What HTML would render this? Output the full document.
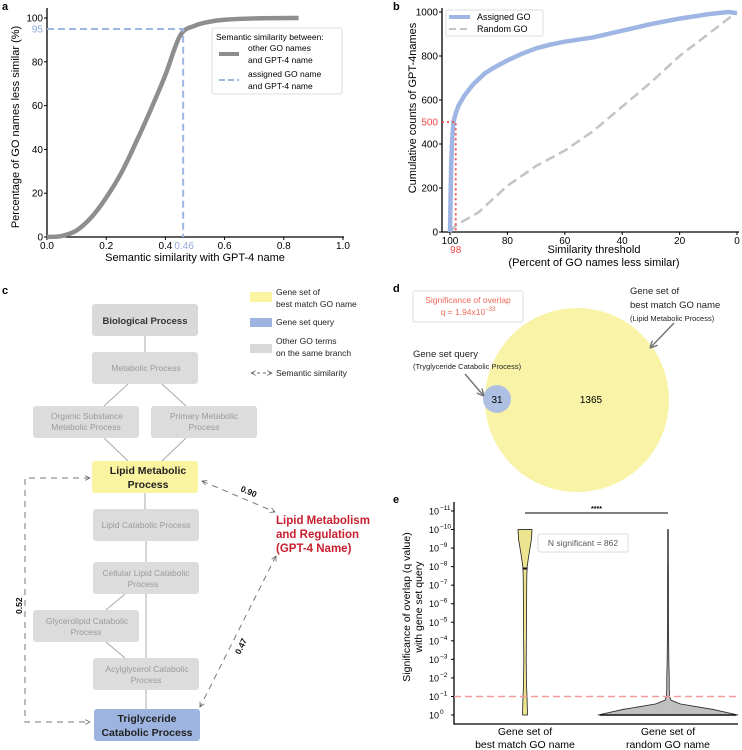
<!DOCTYPE html>
<html><head><meta charset="utf-8">
<style>
html,body{margin:0;padding:0;background:#fff;}
svg{display:block;font-family:"Liberation Sans",Arial,sans-serif;}
</style></head>
<body>
<svg id="fig" width="742" height="750" viewBox="0 0 742 750" xmlns="http://www.w3.org/2000/svg">
<defs>
<marker id="ah" viewBox="0 0 10 10" refX="9" refY="5" markerWidth="6" markerHeight="6" orient="auto-start-reverse"><path d="M1,1 L9,5 L1,9" fill="none" stroke="#666" stroke-width="1.3"/></marker>
<marker id="ah2" viewBox="0 0 10 10" refX="8" refY="5" markerWidth="5" markerHeight="5" orient="auto"><path d="M0,0 L10,5 L0,10" fill="none" stroke="#777" stroke-width="2"/></marker>
</defs>
<g id="pa"></g>
<g id="pb"></g>
<g id="pc">
  <text x="2" y="294" font-size="11" font-weight="bold">c</text>
  <g stroke="#aaa" stroke-width="1">
    <line x1="145" y1="336" x2="145" y2="352"/>
    <line x1="128" y1="384" x2="104" y2="406"/>
    <line x1="162" y1="384" x2="186" y2="406"/>
    <line x1="104" y1="438" x2="128" y2="461"/>
    <line x1="186" y1="438" x2="162" y2="461"/>
    <line x1="145" y1="493" x2="145" y2="509"/>
    <line x1="146" y1="541" x2="146" y2="562"/>
    <line x1="146" y1="594" x2="146" y2="658"/>
    <line x1="125" y1="594" x2="106" y2="610"/>
    <line x1="106" y1="642" x2="125" y2="658"/>
    <line x1="146" y1="690" x2="146" y2="709"/>
  </g>
  <g font-size="8.5" fill="#9a9a9a" text-anchor="middle">
    <rect x="92" y="304" width="106" height="32" rx="3" fill="#d9d9d9"/>
    <text x="145" y="324" fill="#333" font-weight="bold" font-size="9.5">Biological Process</text>
    <rect x="92" y="352" width="106" height="32" rx="3" fill="#dcdcdc"/>
    <text x="146" y="371">Metabolic Process</text>
    <rect x="33" y="406" width="106" height="32" rx="3" fill="#dcdcdc"/>
    <text x="87" y="419">Organic Substance</text><text x="86" y="430">Metabolic Process</text>
    <rect x="151" y="406" width="106" height="32" rx="3" fill="#dcdcdc"/>
    <text x="204" y="419">Primary Metabolic</text><text x="204" y="430">Process</text>
    <rect x="92" y="461" width="106" height="32" rx="3" fill="#faf3a0"/>
    <text x="148" y="474" fill="#222" font-weight="bold" font-size="10.5">Lipid Metabolic</text>
    <text x="148" y="488" fill="#222" font-weight="bold" font-size="10.5">Process</text>
    <rect x="93" y="509" width="106" height="32" rx="3" fill="#dcdcdc"/>
    <text x="146" y="528">Lipid Catabolic Process</text>
    <rect x="93" y="562" width="106" height="32" rx="3" fill="#dcdcdc"/>
    <text x="146" y="576">Cellular Lipid Catabolic</text><text x="143" y="587">Process</text>
    <rect x="33" y="610" width="106" height="32" rx="3" fill="#dcdcdc"/>
    <text x="87" y="624">Glycerolipid Catabolic</text><text x="86" y="635">Process</text>
    <rect x="93" y="658" width="106" height="32" rx="3" fill="#dcdcdc"/>
    <text x="147" y="672">Acylglycerol Catabolic</text><text x="146" y="683">Process</text>
    <rect x="94" y="709" width="106" height="32" rx="3" fill="#9eb4e0"/>
    <text x="147" y="722" fill="#222" font-weight="bold" font-size="10.5">Triglyceride</text>
    <text x="147" y="736" fill="#222" font-weight="bold" font-size="10.5">Catabolic Process</text>
  </g>
  <g font-size="8.5" fill="#222">
    <rect x="250" y="292" width="22" height="10" fill="#faf3a0"/>
    <text x="276" y="295">Gene set of</text><text x="276" y="307">best match GO name</text>
    <rect x="250" y="318" width="22" height="9" fill="#9eb4e0"/>
    <text x="276" y="325">Gene set query</text>
    <rect x="250" y="344" width="22" height="9" fill="#d9d9d9"/>
    <text x="276" y="344">Other GO terms</text><text x="276" y="356">on the same branch</text>
    <line x1="251" y1="373" x2="272" y2="373" stroke="#666" stroke-dasharray="3,3" marker-start="url(#ah)" marker-end="url(#ah)"/>
    <text x="276" y="376">Semantic similarity</text>
  </g>
  <g fill="#c8202f" font-size="11.5" font-weight="bold">
    <text x="276" y="524">Lipid Metabolism</text>
    <text x="276" y="538">and Regulation</text>
    <text x="276" y="552">(GPT-4 Name)</text>
  </g>
  <g stroke="#777" stroke-width="1" fill="none" stroke-dasharray="6,5">
    <line x1="202" y1="481" x2="275" y2="512" marker-start="url(#ah)" marker-end="url(#ah)"/>
    <line x1="276" y1="556" x2="200" y2="707" marker-start="url(#ah)" marker-end="url(#ah)"/>
    <polyline points="90,478 25,478 25,722 90,722" marker-start="url(#ah)" marker-end="url(#ah)"/>
  </g>
  <g font-size="8.5" font-weight="bold" fill="#111">
    <text transform="translate(240,491) rotate(23)">0.90</text>
    <text transform="translate(240,655) rotate(-64)">0.47</text>
    <text transform="translate(22,614) rotate(-90)">0.52</text>
  </g>
</g>
<g id="pd">
  <text x="393" y="292" font-size="11" font-weight="bold">d</text>
  <circle cx="577" cy="400" r="92" fill="#f8f3a6"/>
  <circle cx="497" cy="399" r="14" fill="#aec0e2"/>
  <text x="497" y="403" font-size="10" text-anchor="middle">31</text>
  <text x="591" y="403" font-size="10" text-anchor="middle">1365</text>
  <rect x="413" y="291" width="110" height="31" rx="2" fill="#fff" stroke="#ddd"/>
  <text x="468" y="303" font-size="8.5" fill="#f06a5a" text-anchor="middle">Significance of overlap</text>
  <text x="468" y="315" font-size="8.5" fill="#f06a5a" text-anchor="middle">q = 1.94x10<tspan font-size="6" dy="-4">−33</tspan></text>
  <g font-size="9.5" fill="#222">
    <text x="630" y="294">Gene set of</text>
    <text x="630" y="308">best match GO name</text>
    <text x="630" y="321" font-size="7.5">(Lipid Metabolic Process)</text>
    <text x="413" y="357">Gene set query</text>
    <text x="413" y="369" font-size="7.5">(Tryglyceride Catabolic Process)</text>
  </g>
  <line x1="674" y1="323" x2="651" y2="347" stroke="#777" stroke-width="1.5" marker-end="url(#ah2)"/>
  <line x1="465" y1="374" x2="483" y2="395" stroke="#777" stroke-width="1.5" marker-end="url(#ah2)"/>
</g>
<g id="pe"></g>
</svg>
<script>
// ---------- Panel a data ----------
const aX = [0,0.05,0.1,0.15,0.2,0.25,0.3,0.35,0.4,0.45,0.5,0.55,0.6,0.7,0.85];
const aY = [0,0.5,3,9,18,29,43,58,74,92,96.5,98.3,99.2,99.8,100];
const aXTicks = [0,0.2,0.4,0.6,0.8,1.0];
const aYTicks = [0,20,40,60,80,100];
const aAssignedX = 0.46, aAssignedY = 95;
// ---------- Panel b data ----------
const bThresh = [100,99.6,99.2,98.8,98,97,95,92,88,85,80,75,70,65,60,50,40,30,20,10,3,0];
const bAssigned = [0,300,430,500,540,575,620,670,720,745,780,810,835,852,865,885,915,945,970,990,1000,995];
const bRandThresh = [100,98,90,80,70,60,50,40,30,20,10,0];
const bRandom = [0,30,90,210,300,370,460,570,680,800,900,1000];
const bXTicks = [100,80,60,40,20,0];
const bYTicks = [0,200,400,600,800,1000];
// ---------- Panel e data ----------
const eExp = [0,0.3,0.6,0.8,1,1.5,2,3,5,7,7.5,8,8.5,9,9.5,10];
const eBestDensity = [2.5,2.4,2.2,2.1,2,1.6,1.4,1.2,1.5,1.7,1.8,2.2,3.5,5,6.5,7];
const eRandDensity = [70,45,12,3,1.5,1.2,1.2,0.8,0.5,0.4,0.4,0.35,0.3,0.3,0.3,0.3];
const eBestMedian = 7.9, eRandMedian = 0, eThreshold = 1;
const eYTicks = [0,1,2,3,4,5,6,7,8,9,10,11];

const NS = "http://www.w3.org/2000/svg";
function mk(parent, tag, attrs, text){
  const el = document.createElementNS(NS, tag);
  for (const k in attrs) el.setAttribute(k, attrs[k]);
  if (text !== undefined) el.textContent = text;
  parent.appendChild(el); return el;
}
function smoothPath(P){
  let d = `M${P[0][0]},${P[0][1]}`;
  for (let i=0;i<P.length-1;i++){
    const p0=P[Math.max(0,i-1)],p1=P[i],p2=P[i+1],p3=P[Math.min(P.length-1,i+2)];
    const c1x=p1[0]+(p2[0]-p0[0])/6,c1y=p1[1]+(p2[1]-p0[1])/6;
    const c2x=p2[0]-(p3[0]-p1[0])/6,c2y=p2[1]-(p3[1]-p1[1])/6;
    d+=` C${c1x},${c1y} ${c2x},${c2y} ${p2[0]},${p2[1]}`;
  }
  return d;
}
// ===== Panel A =====
(function(){
  const g = document.getElementById('pa');
  const x0=47,x1=343,y0=237,y1=18;
  const sx = v => x0 + v*(x1-x0), sy = v => y0 - v/100*(y0-y1);
  let t = mk(g,'text',{x:2,y:10,'font-size':11,'font-weight':'bold'},'a');
   
  let ax = mk(g,'path',{d:`M${x0},8 V${y0} H${x1+1}`,fill:'none',stroke:'#000','stroke-width':1.3});
   
  aXTicks.forEach(v=>{
    mk(g,'line',{x1:sx(v),x2:sx(v),y1:y0,y2:y0+3,stroke:'#000'});
    const tt = mk(g,'text',{x:sx(v),y:y0+12,'font-size':10,'text-anchor':'middle'},v.toFixed(1));
     
  });
  aYTicks.forEach(v=>{
    mk(g,'line',{x1:x0-3,x2:x0,y1:sy(v),y2:sy(v),stroke:'#000'});
    const tt = mk(g,'text',{x:x0-4,y:sy(v)+3.5,'font-size':10,'text-anchor':'end'},v);
     
  });
  const P = aX.map((v,i)=>[sx(v),sy(aY[i])]);
  const c = mk(g,'path',{d:smoothPath(P),fill:'none',stroke:'#8e8e8e','stroke-width':4.5,'stroke-linejoin':'round'});
   
  const d = mk(g,'path',{d:`M${x0},${sy(aAssignedY)} H${sx(aAssignedX)} V${y0}`,fill:'none',stroke:'#9fb5e3','stroke-width':2,'stroke-dasharray':'7,4'});
   
  mk(g,'text',{x:x0-4,y:sy(aAssignedY)+3.5,'font-size':10,'text-anchor':'end',fill:'#8fa9d8'},aAssignedY);
  mk(g,'text',{x:sx(aAssignedX)+1,y:y0+12,'font-size':10,'text-anchor':'middle',fill:'#8fa9d8'},aAssignedX.toFixed(2));
  let yl = mk(g,'text',{transform:`translate(19,127) rotate(-90)`,'font-size':11,'text-anchor':'middle'},'Percentage of GO names less similar (%)');
   
  let xl = mk(g,'text',{x:195,y:261,'font-size':11,'text-anchor':'middle'},'Semantic similarity with GPT-4 name');
   
  const lg = mk(g,'g',{});
   
  mk(lg,'rect',{x:212,y:28,width:130,height:66,rx:2,fill:'#fff',stroke:'#ddd'});
  mk(lg,'text',{x:216,y:40,'font-size':8.5},'Semantic similarity between:');
  mk(lg,'line',{x1:219,x2:239,y1:54,y2:54,stroke:'#8e8e8e','stroke-width':4});
  mk(lg,'text',{x:248,y:51,'font-size':8.5},'other GO names');
  mk(lg,'text',{x:248,y:63,'font-size':8.5},'and GPT-4 name');
  mk(lg,'line',{x1:219,x2:239,y1:80,y2:80,stroke:'#9fb5e3','stroke-width':2,'stroke-dasharray':'6,3'});
  mk(lg,'text',{x:248,y:77,'font-size':8.5},'assigned GO name');
  mk(lg,'text',{x:248,y:89,'font-size':8.5},'and GPT-4 name');
})();
// ===== Panel B =====
(function(){
  const g = document.getElementById('pb');
  const x0=442,xa=450,xb=737,y0=232,y1=12;
  const sx = v => xa + (100-v)/100*(xb-xa), sy = v => y0 - v/1000*(y0-y1);
  mk(g,'text',{x:393,y:10,'font-size':11,'font-weight':'bold'},'b');
  let ax = mk(g,'path',{d:`M${x0},8 V${y0} H${xb+2}`,fill:'none',stroke:'#000','stroke-width':1.3});
   
  bXTicks.forEach(v=>{
    mk(g,'line',{x1:sx(v),x2:sx(v),y1:y0,y2:y0+3,stroke:'#000'});
    const tt=mk(g,'text',{x:sx(v),y:y0+12,'font-size':10,'text-anchor':'middle'},v);
     
  });
  bYTicks.forEach(v=>{
    mk(g,'line',{x1:x0-3,x2:x0,y1:sy(v),y2:sy(v),stroke:'#000'});
    const tt=mk(g,'text',{x:x0-4,y:sy(v)+3.5,'font-size':10,'text-anchor':'end'},v);
     
  });
  const r = mk(g,'polyline',{points:bRandThresh.map((v,i)=>sx(v)+','+sy(bRandom[i])).join(' '),fill:'none',stroke:'#c4c4c4','stroke-width':2.5,'stroke-dasharray':'10,5'});
   
  const a = mk(g,'polyline',{points:bThresh.map((v,i)=>sx(v)+','+sy(bAssigned[i])).join(' '),fill:'none',stroke:'#9fb5e3','stroke-width':4.5,'stroke-linejoin':'round'});
   
  const d = mk(g,'path',{d:`M${x0},${sy(500)} H${sx(98)} V${y0}`,fill:'none',stroke:'#f04a4a','stroke-width':1.8,'stroke-dasharray':'2,3'});
   
  mk(g,'text',{x:x0-4,y:sy(500)+3.5,'font-size':10,'text-anchor':'end',fill:'#f04a4a'},'500');
  mk(g,'text',{x:sx(98),y:y0+21,'font-size':10,'text-anchor':'middle',fill:'#f04a4a'},'98');
  let yl=mk(g,'text',{transform:`translate(416,108) rotate(-90)`,'font-size':11,'text-anchor':'middle'},'Cumulative counts of GPT-4names');
   
  let xl=mk(g,'text',{x:594,y:253,'font-size':11,'text-anchor':'middle'},'Similarity threshold');
   
  mk(g,'text',{x:594,y:266,'font-size':11,'text-anchor':'middle'},'(Percent of GO names less similar)');
  const lg = mk(g,'g',{});
   
  mk(lg,'rect',{x:446,y:10,width:97,height:26,rx:2,fill:'#fff',stroke:'#ddd'});
  mk(lg,'line',{x1:449,x2:470,y1:17,y2:17,stroke:'#9fb5e3','stroke-width':4});
  mk(lg,'text',{x:477,y:20,'font-size':9},'Assigned GO');
  mk(lg,'line',{x1:449,x2:470,y1:29,y2:29,stroke:'#c4c4c4','stroke-width':2,'stroke-dasharray':'7,4'});
  mk(lg,'text',{x:477,y:32,'font-size':9},'Random GO');
})();
// ===== Panel E =====
(function(){
  const g = document.getElementById('pe');
  const x0=454,xr=738,yb=724,y0=715,dec=(715-511)/11;
  const sy = e => y0 - e*dec;
  const c1=525,c2=668;
  mk(g,'text',{x:393,y:503,'font-size':11,'font-weight':'bold'},'e');
  let ax = mk(g,'path',{d:`M${x0},502 V${yb} H${xr}`,fill:'none',stroke:'#000','stroke-width':1.3});
   
  eYTicks.forEach(e=>{
    mk(g,'line',{x1:x0-3,x2:x0,y1:sy(e),y2:sy(e),stroke:'#000'});
    const tt=mk(g,'text',{x:x0-15,y:sy(e)+3.5,'font-size':9,'text-anchor':'end'},'10');
     
    mk(g,'text',{x:x0-14,y:sy(e)-1,'font-size':6.5},e===0?'0':'−'+e);
  });
  function violin(cx, dens, fill, name){
    const right = eExp.map((e,i)=>(cx+dens[i])+','+sy(e));
    const left = eExp.map((e,i)=>(cx-dens[i])+','+sy(e)).reverse();
    const p = mk(g,'polygon',{points:right.concat(left).join(' '),fill:fill,stroke:'#222','stroke-width':0.8});
     
  }
  violin(c1,eBestDensity,'#ede48f','violin-best-match');
  violin(c2,eRandDensity,'#c0c0c0','violin-random');
  mk(g,'line',{x1:c1-2.5,x2:c1+2.5,y1:sy(eBestMedian),y2:sy(eBestMedian),stroke:'#111','stroke-width':2});
  mk(g,'line',{x1:c2-68,x2:c2+68,y1:sy(eRandMedian),y2:sy(eRandMedian),stroke:'#111','stroke-width':1.5});
  const th = mk(g,'line',{x1:x0,x2:xr,y1:sy(eThreshold),y2:sy(eThreshold),stroke:'#f49a9a','stroke-width':1.5,'stroke-dasharray':'7,4'});
   
  const sb = mk(g,'line',{x1:c1,x2:c2,y1:513,y2:513,stroke:'#000','stroke-width':1});
   
  mk(g,'text',{x:(c1+c2)/2,y:511,'font-size':7,'text-anchor':'middle','font-weight':'bold'},'****');
  const nb = mk(g,'g',{});
   
  mk(nb,'rect',{x:538,y:534,width:90,height:18,rx:2,fill:'#fff',stroke:'#ddd'});
  mk(nb,'text',{x:583,y:546,'font-size':8.5,'text-anchor':'middle',fill:'#555'},'N significant = 862');
  let yl=mk(g,'text',{transform:`translate(410,607) rotate(-90)`,'font-size':10.5,'text-anchor':'middle'},'Significance of overlap (q value)');
   
  mk(g,'text',{transform:`translate(422,607) rotate(-90)`,'font-size':10.5,'text-anchor':'middle'},'with gene set query');
  const xl1 = mk(g,'text',{x:c1,y:735,'font-size':10.5,'text-anchor':'middle'},'Gene set of');
   
  mk(g,'text',{x:c1,y:748,'font-size':10.5,'text-anchor':'middle'},'best match GO name');
  const xl2 = mk(g,'text',{x:c2,y:735,'font-size':10.5,'text-anchor':'middle'},'Gene set of');
   
  mk(g,'text',{x:c2,y:748,'font-size':10.5,'text-anchor':'middle'},'random GO name');
})();
</script>
</body></html>
